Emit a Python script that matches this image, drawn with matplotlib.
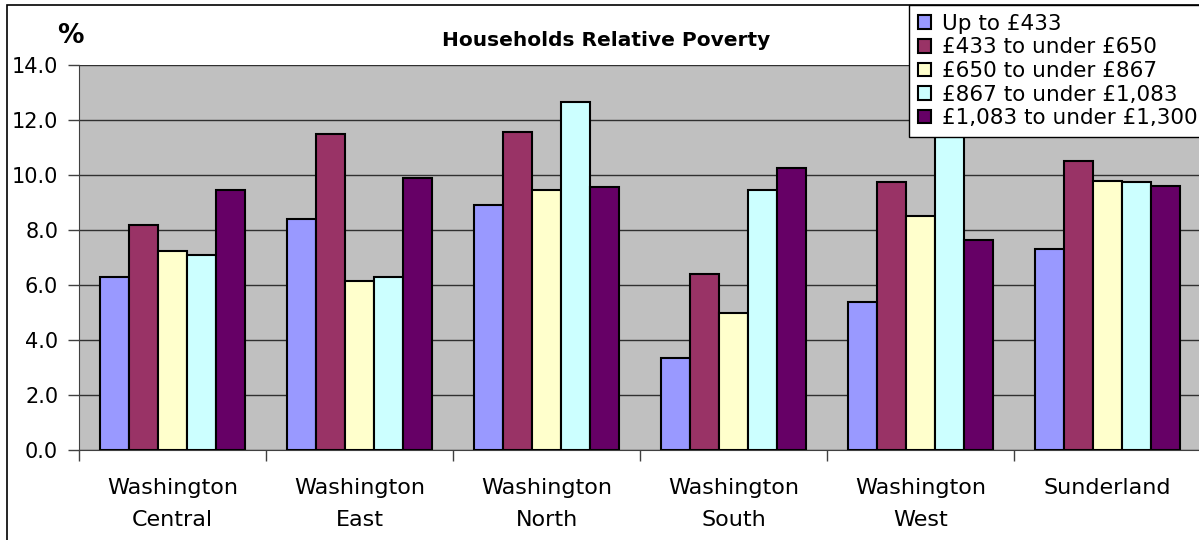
import matplotlib
matplotlib.use("Agg")

import numpy as np
import matplotlib.pyplot as plt
from matplotlib.patches import Rectangle

plt.rcParams["font.family"] = ["DejaVu Sans"]

areas = ["Washington\nCentral", "Washington\nEast", "Washington\nNorth",
         "Washington\nSouth", "Washington\nWest", "Sunderland"]
bands = ["Up to £433", "£433 to under £650", "£650 to under £867",
         "£867 to under £1,083", "£1,083 to under £1,300"]
up_to_433 = [6.3, 8.4, 8.9, 3.35, 5.4, 7.3]
to_650 = [8.2, 11.5, 11.55, 6.4, 9.75, 10.5]
to_867 = [7.25, 6.15, 9.45, 5.0, 8.5, 9.8]
to_1083 = [7.1, 6.3, 12.65, 9.45, 13.0, 9.75]
to_1300 = [9.45, 9.9, 9.55, 10.25, 7.65, 9.6]
series = [up_to_433, to_650, to_867, to_1083, to_1300]
colors = ["#9999FF", "#993366", "#FFFFCC", "#CCFFFF", "#660066"]
yticks = [0, 2, 4, 6, 8, 10, 12, 14]

W, H = 1199, 540
fig = plt.figure(figsize=(W / 100, H / 100), dpi=100)
fig.patches.append(Rectangle((7 / W, -0.1), 1.2, 1 - 5 / H + 0.1,
                             transform=fig.transFigure, fill=False,
                             edgecolor="black", linewidth=1.2, zorder=0))

ax = fig.add_axes([79 / W, 1 - 450 / H, 1122 / W, 385 / H])
ax.set_facecolor("#C0C0C0")

x = np.arange(len(areas))
bw = 0.156
for i, (vals, c, lab) in enumerate(zip(series, colors, bands)):
    ax.bar(x + 0.5 + (i - 2) * bw, vals, bw, color=c, edgecolor="black",
           linewidth=1.5, label=lab, zorder=3)

ax.set_xlim(0, 6)
ax.set_ylim(0, 14)
ax.set_yticks(yticks)
ax.set_yticklabels(["%.1f" % v for v in yticks], fontsize=15)
ax.yaxis.grid(True, color="#303030", linewidth=1.0, zorder=1)
ax.set_axisbelow(True)

ax.set_xticks(range(7))
ax.set_xticklabels([])
ax.set_xticks(x + 0.5, minor=True)
ax.set_xticklabels(areas, minor=True, fontsize=16, linespacing=1.75)
ax.tick_params(axis="x", which="minor", length=0, pad=20)
ax.tick_params(axis="both", which="major", length=8, width=1, color="#404040")
ax.tick_params(axis="y", pad=7)

for s in ["top", "right"]:
    ax.spines[s].set_visible(False)
for s in ["left", "bottom"]:
    ax.spines[s].set_color("#404040")

fig.text(606 / W, 1 - 40 / H, "Households Relative Poverty", fontsize=14.5,
         fontweight="bold", ha="center", va="center")
fig.text(70 / W, 1 - 36 / H, "%", fontsize=19, fontweight="bold",
         ha="center", va="center")

leg = fig.legend(loc="upper left", bbox_to_anchor=(909 / W, 1 - 5 / H),
                 fontsize=15.5, frameon=True, fancybox=False, framealpha=1,
                 borderpad=0.4, handlelength=0.6, handleheight=0.6,
                 handletextpad=0.55, labelspacing=0.17, borderaxespad=0)
leg.get_frame().set_edgecolor("black")
leg.get_frame().set_linewidth(1.0)
for p in leg.get_patches():
    p.set_linewidth(1.5)

fig.savefig("out.png", dpi=100)
